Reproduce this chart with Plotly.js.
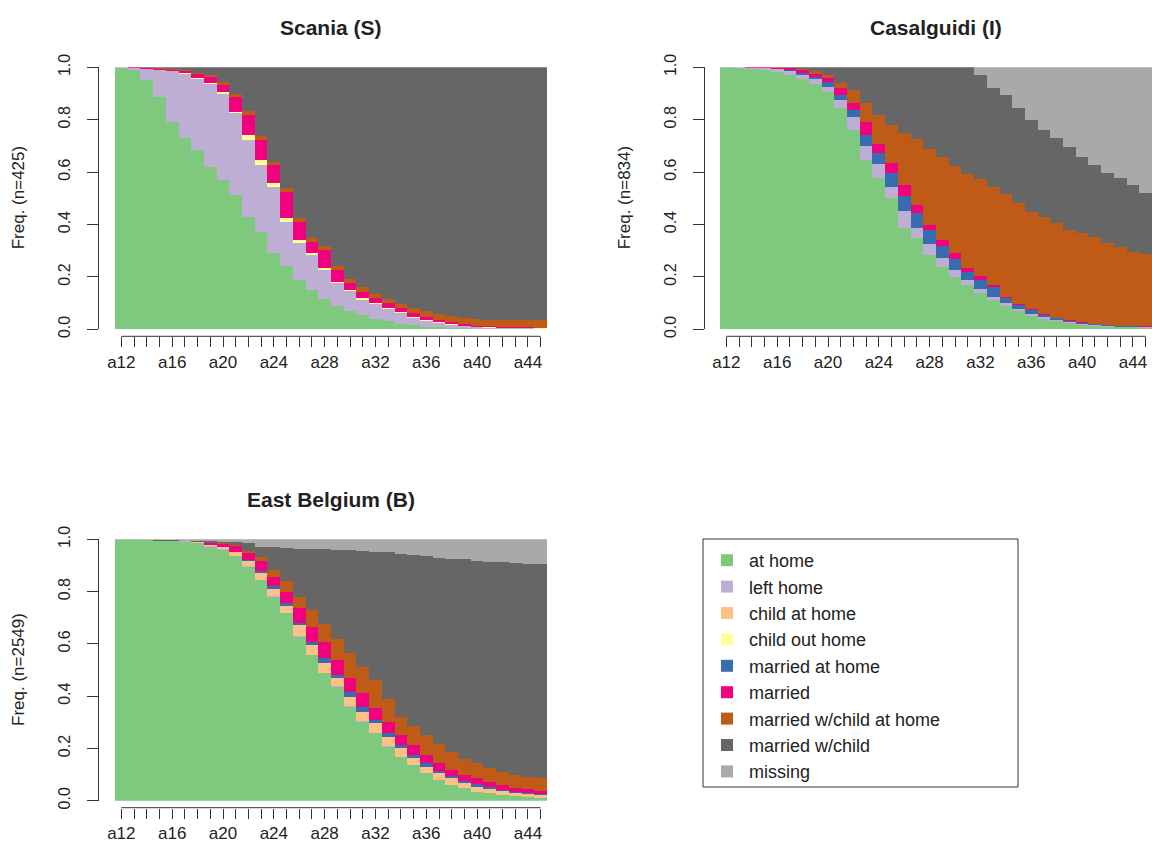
<!DOCTYPE html>
<html>
<head>
<meta charset="utf-8">
<script src="https://cdn.plot.ly/plotly-3.0.1.min.js"></script>
<style>
  html, body { margin: 0; padding: 0; background: #fff; }
  #chart { width: 1152px; height: 849px; }
</style>
</head>
<body>
<div id="chart"></div>
<script>
// Ages (sequence positions) and which of them carry a tick label
const ages = ['a12','a13','a14','a15','a16','a17','a18','a19','a20','a21','a22','a23',
              'a24','a25','a26','a27','a28','a29','a30','a31','a32','a33','a34','a35',
              'a36','a37','a38','a39','a40','a41','a42','a43','a44','a45'];
const labeledAges = ['a12','a16','a20','a24','a28','a32','a36','a40','a44'];
const yTickVals = [0, 0.2, 0.4, 0.6, 0.8, 1.0];
const yTickText = ['0.0', '0.2', '0.4', '0.6', '0.8', '1.0'];

// States, in stacking order, with their colours
const states = ['at home', 'left home', 'child at home', 'child out home', 'married at home',
                'married', 'married w/child at home', 'married w/child', 'missing'];
const stateColors = ['#7FC97F', '#BEAED4', '#FDC086', '#FFFF99', '#386CB0',
                     '#F0027F', '#BF5B17', '#666666', '#A9A9A9'];

// Scania (S), n = 425 : share of each state at each age
const scaniaAtHome = [0.996,0.990,0.952,0.888,0.793,0.729,0.684,0.621,0.570,0.513,0.430,0.373,0.290,0.240,0.190,0.150,0.115,0.090,0.070,0.055,0.040,0.030,0.022,0.015,0.010,0.007,0.005,0.004,0.003,0.002,0.002,0.002,0.001,0.001];
const scaniaLeftHome = [0.004,0.009,0.043,0.102,0.192,0.246,0.271,0.314,0.330,0.312,0.293,0.254,0.255,0.170,0.140,0.133,0.110,0.085,0.075,0.058,0.055,0.046,0.041,0.030,0.022,0.017,0.012,0.008,0.005,0.004,0.003,0.002,0.003,0.002];
const scaniaChildAtHome = [0,0,0,0,0,0,0,0,0,0,0,0,0,0,0,0,0,0,0,0,0,0,0,0,0,0,0,0,0,0,0,0,0,0];
const scaniaChildOutHome = [0,0,0,0,0.001,0.002,0.003,0.004,0.007,0.006,0.019,0.019,0.012,0.014,0.011,0.007,0.008,0.007,0.005,0.005,0.004,0.004,0.004,0.003,0.003,0.002,0.002,0.001,0.001,0.001,0.001,0.001,0,0.001];
const scaniaMarriedAtHome = [0,0,0,0,0,0,0,0,0,0,0,0,0,0,0,0,0,0,0,0,0,0,0,0,0,0,0,0,0,0,0,0,0,0];
const scaniaMarried = [0,0.001,0.003,0.005,0.004,0.008,0.017,0.025,0.026,0.057,0.076,0.077,0.070,0.101,0.070,0.045,0.070,0.044,0.026,0.026,0.019,0.019,0.013,0.013,0.013,0.010,0.008,0.007,0.005,0.004,0.003,0.003,0.003,0.002];
const scaniaMwcAtHome = [0,0,0.001,0.002,0.003,0.005,0.005,0.006,0.012,0.012,0.014,0.014,0.013,0.015,0.014,0.015,0.015,0.016,0.016,0.016,0.017,0.016,0.017,0.019,0.022,0.024,0.025,0.025,0.026,0.026,0.028,0.029,0.030,0.029];
const scaniaMwc = [0,0,0.001,0.003,0.007,0.010,0.020,0.030,0.055,0.100,0.168,0.263,0.360,0.460,0.575,0.650,0.682,0.758,0.808,0.840,0.865,0.885,0.903,0.920,0.930,0.940,0.948,0.955,0.960,0.963,0.963,0.963,0.963,0.965];
const scaniaMissing = [0,0,0,0,0,0,0,0,0,0,0,0,0,0,0,0,0,0,0,0,0,0,0,0,0,0,0,0,0,0,0,0,0,0];

// Casalguidi (I), n = 834
const casAtHome = [1.000,0.998,0.995,0.990,0.982,0.970,0.955,0.935,0.905,0.845,0.761,0.645,0.576,0.500,0.386,0.347,0.284,0.239,0.201,0.169,0.137,0.112,0.089,0.068,0.052,0.040,0.030,0.023,0.017,0.013,0.010,0.008,0.007,0.006];
const casLeftHome = [0,0.002,0.004,0.007,0.011,0.015,0.017,0.020,0.020,0.030,0.049,0.055,0.054,0.045,0.066,0.039,0.041,0.032,0.025,0.019,0.017,0.013,0.010,0.008,0.007,0.006,0.005,0.004,0.003,0.003,0.002,0.002,0.002,0.002];
const casChildAtHome = [0,0,0,0,0,0,0,0,0,0,0,0,0,0,0,0,0,0,0,0,0,0,0,0,0,0,0,0,0,0,0,0,0,0];
const casChildOutHome = [0,0,0,0,0,0,0,0,0,0,0,0,0,0,0,0,0,0,0,0,0,0,0,0,0,0,0,0,0,0,0,0,0,0];
const casMarriedAtHome = [0,0,0,0.001,0.002,0.005,0.006,0.008,0.020,0.019,0.027,0.042,0.042,0.050,0.058,0.057,0.054,0.047,0.042,0.032,0.034,0.035,0.019,0.017,0.013,0.010,0.008,0.006,0.005,0.003,0.003,0.002,0.002,0.002];
const casMarried = [0,0,0.001,0.002,0.004,0.006,0.010,0.013,0.013,0.026,0.026,0.051,0.034,0.039,0.041,0.032,0.019,0.023,0.022,0.013,0.016,0.009,0.007,0.005,0.004,0.003,0.002,0.002,0.002,0.002,0.001,0.001,0.001,0.001];
const casMwcAtHome = [0,0,0,0,0.001,0.003,0.006,0.009,0.012,0.020,0.050,0.070,0.112,0.146,0.199,0.250,0.292,0.318,0.333,0.360,0.371,0.376,0.390,0.385,0.373,0.368,0.362,0.344,0.339,0.330,0.312,0.300,0.284,0.277];
const casMwc = [0,0,0,0,0,0.001,0.006,0.015,0.030,0.060,0.087,0.137,0.182,0.220,0.250,0.275,0.310,0.341,0.377,0.407,0.395,0.375,0.379,0.360,0.351,0.334,0.322,0.318,0.293,0.276,0.267,0.263,0.255,0.231];
const casMissing = [0,0,0,0,0,0,0,0,0,0,0,0,0,0,0,0,0,0,0,0,0.030,0.080,0.106,0.157,0.200,0.239,0.271,0.303,0.341,0.373,0.405,0.424,0.449,0.481];

// East Belgium (B), n = 2549
const belAtHome = [0.997,0.997,0.996,0.995,0.993,0.990,0.985,0.970,0.958,0.935,0.895,0.844,0.780,0.717,0.628,0.557,0.487,0.436,0.360,0.302,0.258,0.207,0.168,0.136,0.105,0.079,0.060,0.047,0.034,0.028,0.022,0.018,0.015,0.011];
const belLeftHome = [0,0,0,0,0.001,0.002,0.002,0.003,0.003,0.003,0.003,0.002,0.002,0.002,0.002,0.002,0.001,0.001,0.001,0.001,0.001,0.001,0.001,0.001,0.001,0.001,0.001,0.001,0.001,0.001,0.001,0.001,0.001,0.001];
const belChildAtHome = [0,0,0,0,0,0.001,0.002,0.004,0.008,0.012,0.018,0.024,0.028,0.026,0.042,0.037,0.038,0.031,0.037,0.038,0.037,0.037,0.031,0.025,0.024,0.025,0.024,0.018,0.019,0.015,0.013,0.011,0.009,0.008];
const belChildOutHome = [0,0,0,0,0,0,0,0,0,0,0,0,0,0,0,0,0,0,0,0,0,0,0,0,0,0,0,0,0,0,0,0,0,0];
const belMarriedAtHome = [0,0,0,0,0,0,0,0.001,0.002,0.003,0.004,0.008,0.010,0.010,0.007,0.012,0.019,0.013,0.019,0.019,0.013,0.013,0.013,0.013,0.013,0.010,0.009,0.011,0.008,0.007,0.006,0.005,0.005,0.005];
const belMarried = [0,0,0,0,0,0.001,0.002,0.006,0.010,0.020,0.026,0.039,0.037,0.045,0.057,0.058,0.063,0.057,0.051,0.051,0.044,0.044,0.038,0.038,0.032,0.028,0.023,0.021,0.023,0.022,0.018,0.015,0.013,0.012];
const belMwcAtHome = [0,0,0,0,0,0,0,0.002,0.004,0.007,0.010,0.015,0.025,0.040,0.044,0.064,0.067,0.082,0.097,0.099,0.107,0.088,0.069,0.072,0.075,0.072,0.070,0.063,0.058,0.051,0.050,0.048,0.049,0.048];
const belMwc = [0,0,0.001,0.002,0.002,0.001,0.002,0.006,0.005,0.008,0.029,0.040,0.088,0.128,0.184,0.233,0.287,0.340,0.394,0.447,0.493,0.560,0.625,0.655,0.685,0.715,0.739,0.762,0.775,0.791,0.802,0.810,0.815,0.820];
const belMissing = [0.003,0.003,0.003,0.003,0.004,0.005,0.007,0.008,0.010,0.012,0.015,0.028,0.030,0.032,0.036,0.037,0.038,0.040,0.041,0.043,0.047,0.050,0.055,0.060,0.065,0.070,0.074,0.077,0.082,0.085,0.088,0.092,0.093,0.095];

// ---- page geometry (pixels on a 1152 x 849 page) ----
const W = 1152, H = 849;
const fx = px => px / W;
const fy = py => 1 - py / H;
const FONT = '"Liberation Sans", Arial, Helvetica, sans-serif';
const INK = '#222222';
const AXIS = '#333333';

const panels = [
  { title: 'Scania (S)', n: 425, xa: 'x', ya: 'y',
    series: [scaniaAtHome, scaniaLeftHome, scaniaChildAtHome, scaniaChildOutHome, scaniaMarriedAtHome,
             scaniaMarried, scaniaMwcAtHome, scaniaMwc, scaniaMissing],
    left: 115, right: 547, top: 67.3, bottom: 329.3, yAxisAt: 98 },
  { title: 'Casalguidi (I)', n: 834, xa: 'x2', ya: 'y2',
    series: [casAtHome, casLeftHome, casChildAtHome, casChildOutHome, casMarriedAtHome,
             casMarried, casMwcAtHome, casMwc, casMissing],
    left: 720, right: 1152, top: 67.3, bottom: 329.3, yAxisAt: 704 },
  { title: 'East Belgium (B)', n: 2549, xa: 'x3', ya: 'y3',
    series: [belAtHome, belLeftHome, belChildAtHome, belChildOutHome, belMarriedAtHome,
             belMarried, belMwcAtHome, belMwc, belMissing],
    left: 115, right: 547, top: 539.3, bottom: 800.7, yAxisAt: 98 }
];

// legend frame
const legendBox = { left: 703, right: 1018, top: 539, bottom: 787 };

const tickText = ages.map(a => labeledAges.includes(a) ? a : '');

const traces = [];
const layout = {
  width: W, height: H,
  margin: { l: 0, r: 0, t: 0, b: 0, pad: 0 },
  paper_bgcolor: '#ffffff',
  plot_bgcolor: '#ffffff',
  barmode: 'stack',
  bargap: 0,
  font: { family: FONT, color: INK, size: 17 },
  showlegend: true,
  legend: {
    x: fx(legendBox.left + 2), y: fy(legendBox.top + 3), xanchor: 'left', yanchor: 'top',
    borderwidth: 0, bgcolor: 'rgba(0,0,0,0)',
    font: { family: FONT, size: 18, color: INK },
    traceorder: 'grouped', tracegroupgap: 0, itemwidth: 34
  },
  annotations: [],
  shapes: [{
    type: 'rect', xref: 'paper', yref: 'paper',
    x0: fx(legendBox.left), x1: fx(legendBox.right),
    y0: fy(legendBox.bottom), y1: fy(legendBox.top),
    line: { color: AXIS, width: 1 }, fillcolor: 'rgba(0,0,0,0)'
  }]
};

panels.forEach((p, pi) => {
  const sfx = pi === 0 ? '' : String(pi + 1);
  const axisLineY = p.bottom + 7;

  states.forEach((s, si) => {
    traces.push({
      type: 'bar',
      x: ages,
      y: p.series[si],
      xaxis: p.xa,
      yaxis: p.ya,
      name: s,
      legendgroup: s,
      showlegend: pi === 0,
      marker: { color: stateColors[si], line: { width: 0 } },
      hoverinfo: 'skip'
    });
  });

  layout['xaxis' + sfx] = {
    domain: [fx(p.left), Math.min(1, fx(p.right))],
    anchor: 'free',
    position: fy(axisLineY),
    type: 'category',
    range: [-0.5, ages.length - 0.5],
    tickmode: 'array', tickvals: ages, ticktext: tickText,
    ticks: 'outside', ticklen: 10, tickwidth: 1, tickcolor: AXIS,
    showline: false, showgrid: false, zeroline: false,
    tickfont: { family: FONT, size: 17, color: INK },
    fixedrange: true
  };
  layout['yaxis' + sfx] = {
    domain: [fy(p.bottom), fy(p.top)],
    anchor: 'free',
    position: fx(p.yAxisAt),
    range: [0, 1],
    tickmode: 'array', tickvals: yTickVals, ticktext: yTickText,
    tickangle: -90,
    ticks: 'outside', ticklen: 11, tickwidth: 1, tickcolor: AXIS,
    ticklabelstandoff: 11,
    showline: true, linecolor: AXIS, linewidth: 1,
    showgrid: false, zeroline: false,
    tickfont: { family: FONT, size: 16, color: INK },
    fixedrange: true
  };

  // x axis line from the first to the last age
  layout.shapes.push({
    type: 'line', xref: p.xa, yref: 'paper',
    x0: 0, x1: ages.length - 1, y0: fy(axisLineY), y1: fy(axisLineY),
    line: { color: AXIS, width: 1 }
  });

  // panel title
  layout.annotations.push({
    text: '<b>' + p.title + '</b>',
    xref: 'paper', yref: 'paper',
    x: fx((p.left + Math.min(p.right, W)) / 2), y: fy(p.top - 40),
    xanchor: 'center', yanchor: 'middle', showarrow: false,
    font: { family: FONT, size: 21, color: INK }
  });

  // y axis title
  layout.annotations.push({
    text: 'Freq. (n=' + p.n + ')',
    xref: 'paper', yref: 'paper',
    x: fx(p.yAxisAt - 80), y: fy((p.top + p.bottom) / 2),
    xanchor: 'center', yanchor: 'middle', textangle: -90, showarrow: false,
    font: { family: FONT, size: 17, color: INK }
  });
});

Plotly.newPlot('chart', traces, layout, { displayModeBar: false, staticPlot: true });
</script>
</body>
</html>
